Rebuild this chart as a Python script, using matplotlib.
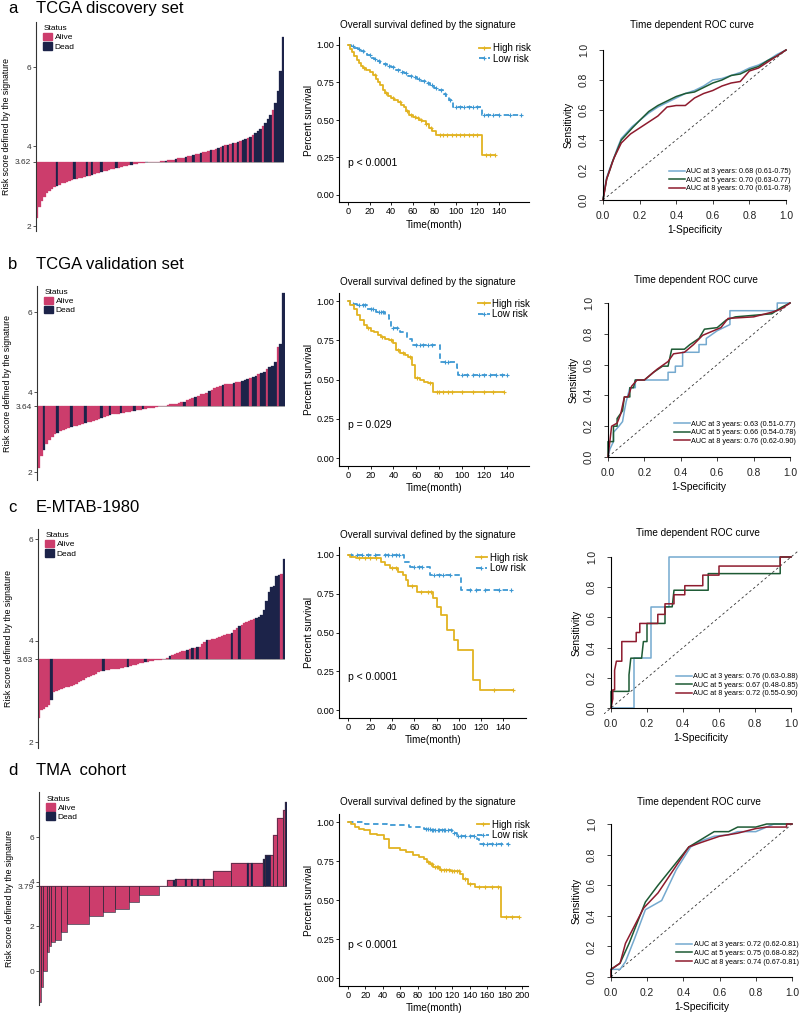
import numpy as np
import matplotlib
matplotlib.use('Agg')
import matplotlib.pyplot as plt
from matplotlib.patches import Patch
from matplotlib.lines import Line2D

plt.rcParams['font.family'] = ['Liberation Sans', 'DejaVu Sans']

# ---------------- data ----------------
# waterfall: sorted risk scores, indices of dead patients, cutoff
risk_a = [2.20, 2.48, 2.64, 2.74, 2.82, 2.88, 2.93, 2.97, 3.01, 3.04,
          3.07, 3.09, 3.11, 3.13, 3.15, 3.17, 3.19, 3.20, 3.22, 3.24,
          3.26, 3.27, 3.29, 3.31, 3.33, 3.34, 3.36, 3.38, 3.39, 3.41,
          3.43, 3.44, 3.46, 3.47, 3.49, 3.50, 3.52, 3.53, 3.54, 3.56,
          3.57, 3.58, 3.59, 3.595, 3.60, 3.605, 3.61, 3.612, 3.615, 3.618,
          3.625, 3.63, 3.64, 3.65, 3.66, 3.67, 3.68, 3.70, 3.71, 3.72,
          3.74, 3.75, 3.77, 3.78, 3.80, 3.81, 3.83, 3.85, 3.86, 3.88,
          3.90, 3.92, 3.94, 3.96, 3.98, 4.00, 4.03, 4.05, 4.07, 4.09,
          4.10, 4.12, 4.14, 4.16, 4.19, 4.22, 4.25, 4.29, 4.33, 4.38,
          4.44, 4.52, 4.60, 4.68, 4.78, 4.92, 5.10, 5.40, 5.90, 6.75]
dead_a = [8, 15, 20, 22, 26, 32, 38, 44, 52, 56, 60, 63, 66, 70, 73, 75, 77,
          79, 81, 83, 84, 86, 88, 89, 90, 92, 93, 94, 96, 97, 98, 99]
cut_a = 3.62

risk_b = [2.09, 2.40, 2.55, 2.70, 2.80, 2.88, 2.94, 2.98, 3.02, 3.05,
          3.08, 3.10, 3.12, 3.14, 3.16, 3.18, 3.20, 3.22, 3.24, 3.26,
          3.28, 3.30, 3.32, 3.36, 3.38, 3.40, 3.42, 3.44, 3.45, 3.46,
          3.47, 3.48, 3.50, 3.51, 3.52, 3.53, 3.55, 3.56, 3.57, 3.58,
          3.59, 3.60, 3.61, 3.63,
          3.645, 3.65, 3.66, 3.67, 3.69, 3.70, 3.71, 3.72, 3.74, 3.75,
          3.79, 3.83, 3.86, 3.88, 3.91, 3.94, 3.96, 3.98, 4.02, 4.06,
          4.10, 4.13, 4.16, 4.18, 4.19, 4.20, 4.21, 4.22, 4.24, 4.26,
          4.28, 4.30, 4.33, 4.35, 4.38, 4.41, 4.44, 4.47, 4.50, 4.58,
          4.62, 4.66, 4.75, 5.12, 5.20, 6.47]
dead_b = [2, 7, 12, 17, 23, 26, 30, 35, 38, 53, 57, 62, 67, 71, 74, 75, 76,
          78, 79, 81, 82, 84, 85, 86, 88, 89]
cut_b = 3.64

risk_c = [2.48, 2.63, 2.66, 2.69, 2.72, 2.83, 2.99, 3.00, 3.02, 3.04,
          3.06, 3.08, 3.09, 3.10, 3.12, 3.15, 3.18, 3.20, 3.23, 3.26,
          3.28, 3.30, 3.32, 3.34, 3.37, 3.39, 3.40, 3.41, 3.42, 3.43,
          3.43, 3.44, 3.44, 3.45, 3.46, 3.47, 3.48, 3.50, 3.51, 3.52,
          3.53, 3.55, 3.56, 3.57, 3.58, 3.59, 3.60, 3.61, 3.62, 3.625,
          3.635, 3.64, 3.66, 3.70, 3.72, 3.74, 3.76, 3.78, 3.79, 3.80,
          3.81, 3.83, 3.85, 3.86, 3.87, 3.88, 3.94, 3.97, 4.00, 4.01,
          4.02, 4.03, 4.05, 4.07, 4.09, 4.10, 4.12, 4.13, 4.15, 4.20,
          4.24, 4.28, 4.31, 4.34, 4.36, 4.38, 4.40, 4.42, 4.45, 4.47,
          4.50, 4.60, 4.78, 4.95, 5.05, 5.07, 5.27, 5.30, 5.32, 5.60]
dead_c = [5, 26, 36, 43, 53, 60, 62, 64, 68, 78, 81,
          88, 89, 90, 91, 92, 93, 94, 95, 96, 97, 99]
cut_c = 3.63

# TMA cohort has many tied scores: value runs and run lengths
runs_d = [-1.41, -0.70, 0.00, 0.83, 1.10, 1.28, 1.37, 1.73, 2.09, 2.45,
          2.62, 2.76, 3.07, 3.42, 3.79, 4.06, 4.10, 4.46, 4.82, 5.00,
          5.18, 6.07, 6.84, 7.20, 7.55]
counts_d = [1, 1, 2, 1, 1, 2, 3, 3, 11, 7, 6, 7, 5, 10, 4, 4, 19, 9, 16, 1,
            4, 2, 3, 1, 1]
dead_d = [67, 68, 73, 76, 79, 82, 104, 106, 112, 113, 114, 115, 123]
cut_d = 3.79

# Kaplan-Meier: event times, survival after event, last follow-up, censor times
km_a_high_t = [2, 4, 6, 8, 10, 12, 14, 17, 20, 23, 26, 28, 30, 32, 34, 37, 40,
               43, 46, 49, 52, 54, 57, 60, 63, 66, 69, 72, 75, 78, 82, 124]
km_a_high_s = [0.975, 0.95, 0.925, 0.90, 0.88, 0.86, 0.845, 0.835, 0.82, 0.80,
               0.775, 0.755, 0.73, 0.70, 0.68, 0.66, 0.645, 0.635, 0.62, 0.60,
               0.585, 0.56, 0.53, 0.52, 0.51, 0.50, 0.49, 0.47, 0.445, 0.425,
               0.40, 0.267]
km_a_high_end = 136
km_a_high_c = [15, 25, 35, 42, 48, 55, 58, 62, 65, 68, 72, 77, 85, 88, 92, 96,
               100, 104, 108, 112, 116, 120, 128, 132, 136]
km_a_low_t = [3, 6, 9, 12, 15, 18, 21, 24, 27, 30, 33, 36, 40, 44, 48, 52, 56,
              60, 64, 68, 72, 76, 80, 84, 88, 91, 94, 97, 124]
km_a_low_s = [0.99, 0.98, 0.97, 0.96, 0.945, 0.93, 0.915, 0.905, 0.89, 0.88,
              0.87, 0.86, 0.85, 0.835, 0.82, 0.81, 0.795, 0.785, 0.775, 0.76,
              0.745, 0.73, 0.715, 0.70, 0.675, 0.655, 0.63, 0.585, 0.533]
km_a_low_end = 160
km_a_low_c = [5, 10, 14, 20, 25, 29, 34, 38, 42, 46, 50, 54, 58, 62, 66, 70,
              74, 78, 82, 86, 90, 95, 100, 104, 108, 112, 116, 120, 126, 130,
              134, 140, 150, 160]

km_b_high_t = [2, 5, 8, 11, 14, 17, 20, 23, 26, 29, 33, 36, 40, 42, 46, 50, 53,
               56, 59, 63, 67, 70, 75]
km_b_high_s = [0.975, 0.95, 0.91, 0.88, 0.845, 0.825, 0.81, 0.80, 0.785, 0.77,
               0.76, 0.75, 0.73, 0.687, 0.666, 0.655, 0.645, 0.59, 0.507,
               0.495, 0.486, 0.475, 0.423]
km_b_high_end = 137
km_b_high_c = [18, 30, 38, 44, 48, 55, 61, 72, 78, 80, 84, 88, 92, 100, 110,
               120, 128, 137]
km_b_low_t = [2, 8, 17, 25, 33, 36, 38, 46, 52, 56, 81, 96, 97]
km_b_low_s = [0.983, 0.973, 0.951, 0.93, 0.91, 0.888, 0.825, 0.803, 0.761,
              0.719, 0.613, 0.571, 0.529]
km_b_low_end = 140
km_b_low_c = [4, 10, 13, 15, 20, 22, 27, 29, 31, 40, 43, 60, 63, 66, 70, 74,
              85, 88, 100, 105, 110, 115, 120, 125, 130, 136, 140]

km_c_high_t = [1.5, 7.5, 30, 33, 37.6, 45, 50, 52.7, 54, 62, 77, 80, 84, 89,
               96, 99, 113, 119]
km_c_high_s = [0.99, 0.978, 0.957, 0.935, 0.914, 0.892, 0.871, 0.839, 0.80,
               0.763, 0.72, 0.667, 0.613, 0.516, 0.452, 0.387, 0.194, 0.129]
km_c_high_end = 149
km_c_high_c = [10, 15, 20, 25, 40, 43, 58, 66, 72, 75, 132, 149]
km_c_low_t = [51, 56, 74, 102]
km_c_low_s = [0.957, 0.925, 0.871, 0.774]
km_c_low_end = 147
km_c_low_c = [3, 8, 13, 18, 24, 33, 36, 40, 43, 46, 60, 64, 67, 78, 82, 86,
              92, 110, 116, 124, 136, 147]

km_d_high_t = [3, 8, 13, 18, 25, 33, 41, 47, 60, 67, 75, 82, 87, 91, 94, 98,
               106, 118, 129, 132, 138, 146, 176]
km_d_high_s = [0.989, 0.968, 0.958, 0.947, 0.925, 0.915, 0.893, 0.833, 0.823,
               0.808, 0.786, 0.775, 0.765, 0.745, 0.733, 0.711, 0.69, 0.685,
               0.669, 0.637, 0.605, 0.583, 0.391]
km_d_high_end = 196
km_d_high_c = [92, 95, 97, 100, 102, 104, 107, 110, 113, 116, 119, 122, 125,
               128, 134, 140, 150, 158, 165, 172, 182, 188, 196]
km_d_low_t = [20, 45, 70, 87, 95, 102, 119, 125, 148, 151]
km_d_low_s = [0.99, 0.98, 0.97, 0.957, 0.951, 0.947, 0.93, 0.908, 0.893, 0.861]
km_d_low_end = 184
km_d_low_c = [90, 92, 94, 96, 98, 100, 103, 105, 108, 110, 112, 115, 118,
              122, 127, 130, 135, 140, 145, 155, 160, 165, 170, 176, 184]

pvals = ['p < 0.0001', 'p = 0.029', 'p < 0.0001', 'p < 0.0001']

# ROC curves (1-specificity, sensitivity)
roc_a3_x = [0, 0.01, 0.02, 0.04, 0.05, 0.08, 0.10, 0.13, 0.16, 0.20, 0.25, 0.30,
            0.35, 0.40, 0.45, 0.50, 0.55, 0.60, 0.65, 0.70, 0.75, 0.80, 0.85,
            0.90, 0.95, 1.0]
roc_a3_y = [0, 0.08, 0.15, 0.22, 0.25, 0.35, 0.41, 0.45, 0.49, 0.53, 0.58, 0.62,
            0.65, 0.68, 0.71, 0.73, 0.76, 0.80, 0.81, 0.83, 0.85, 0.88, 0.90,
            0.93, 0.97, 1.0]
roc_a5_x = [0, 0.01, 0.02, 0.04, 0.05, 0.08, 0.10, 0.13, 0.16, 0.20, 0.25, 0.30,
            0.35, 0.40, 0.45, 0.50, 0.55, 0.60, 0.65, 0.70, 0.75, 0.80, 0.85,
            0.90, 0.95, 1.0]
roc_a5_y = [0, 0.07, 0.14, 0.21, 0.25, 0.34, 0.40, 0.44, 0.48, 0.53, 0.59, 0.63,
            0.66, 0.69, 0.71, 0.72, 0.75, 0.78, 0.80, 0.83, 0.84, 0.87, 0.89,
            0.93, 0.96, 1.0]
roc_a8_x = [0, 0.01, 0.02, 0.04, 0.06, 0.08, 0.10, 0.15, 0.20, 0.25, 0.30, 0.35,
            0.40, 0.45, 0.50, 0.55, 0.60, 0.65, 0.70, 0.75, 0.80, 0.85, 0.90,
            0.95, 1.0]
roc_a8_y = [0, 0.07, 0.14, 0.21, 0.28, 0.33, 0.38, 0.44, 0.48, 0.52, 0.56, 0.62,
            0.63, 0.63, 0.68, 0.71, 0.73, 0.76, 0.78, 0.79, 0.86, 0.88, 0.92,
            0.96, 1.0]

roc_b3_x = [0, 0.01, 0.03, 0.03, 0.06, 0.08, 0.09, 0.10, 0.12, 0.15, 0.15, 0.33,
            0.33, 0.37, 0.37, 0.41, 0.41, 0.50, 0.50, 0.54, 0.54, 0.60, 0.67,
            0.67, 0.93, 0.93, 1.0]
roc_b3_y = [0, 0.05, 0.10, 0.16, 0.20, 0.23, 0.30, 0.36, 0.45, 0.45, 0.50, 0.50,
            0.55, 0.55, 0.59, 0.59, 0.68, 0.68, 0.73, 0.73, 0.77, 0.82, 0.86,
            0.95, 0.95, 1.0, 1.0]
roc_b5_x = [0, 0, 0.03, 0.03, 0.05, 0.05, 0.08, 0.09, 0.12, 0.12, 0.14, 0.15,
            0.20, 0.25, 0.30, 0.33, 0.35, 0.42, 0.45, 0.50, 0.53, 0.60, 0.65,
            0.70, 0.90, 0.95, 1.0]
roc_b5_y = [0, 0.10, 0.10, 0.20, 0.20, 0.25, 0.30, 0.39, 0.39, 0.45, 0.45, 0.50,
            0.50, 0.55, 0.59, 0.59, 0.70, 0.70, 0.73, 0.77, 0.83, 0.84, 0.89,
            0.91, 0.93, 0.97, 1.0]
roc_b8_x = [0, 0.01, 0.02, 0.05, 0.07, 0.09, 0.11, 0.13, 0.16, 0.20, 0.27, 0.33,
            0.36, 0.42, 0.47, 0.52, 0.58, 0.62, 0.66, 0.80, 0.90, 0.95, 1.0]
roc_b8_y = [0, 0.10, 0.20, 0.22, 0.28, 0.39, 0.39, 0.46, 0.50, 0.50, 0.57, 0.62,
            0.67, 0.68, 0.73, 0.79, 0.82, 0.84, 0.90, 0.91, 0.94, 0.96, 1.0]

roc_c3_x = [0, 0.125, 0.125, 0.22, 0.22, 0.32, 0.32, 1.0]
roc_c3_y = [0, 0, 0.333, 0.333, 0.667, 0.667, 1.0, 1.0]
roc_c5_x = [0, 0, 0.10, 0.10, 0.11, 0.17, 0.18, 0.20, 0.20, 0.30, 0.30, 0.34,
            0.35, 0.54, 0.54, 0.94, 0.94, 1.0]
roc_c5_y = [0, 0.11, 0.11, 0.22, 0.33, 0.33, 0.44, 0.44, 0.56, 0.56, 0.67, 0.67,
            0.78, 0.78, 0.89, 0.89, 1.0, 1.0]
roc_c8_x = [0, 0.01, 0.01, 0.02, 0.02, 0.03, 0.06, 0.06, 0.14, 0.14, 0.16, 0.16,
            0.26, 0.26, 0.30, 0.30, 0.35, 0.35, 0.41, 0.41, 0.51, 0.51, 0.60,
            0.60, 0.94, 0.94, 1.0]
roc_c8_y = [0, 0.06, 0.12, 0.12, 0.25, 0.31, 0.31, 0.44, 0.44, 0.50, 0.50, 0.56,
            0.56, 0.62, 0.62, 0.69, 0.69, 0.75, 0.75, 0.81, 0.81, 0.88, 0.88,
            0.94, 0.94, 1.0, 1.0]

roc_d3_x = [0, 0, 0.05, 0.08, 0.13, 0.19, 0.28, 0.36, 0.44, 0.50, 0.57, 0.65,
            0.70, 0.80, 0.84, 0.90, 1.0]
roc_d3_y = [0, 0.05, 0.05, 0.10, 0.25, 0.44, 0.50, 0.70, 0.85, 0.89, 0.92, 0.93,
            0.95, 0.95, 0.97, 1.0, 1.0]
roc_d5_x = [0, 0, 0.05, 0.10, 0.19, 0.26, 0.43, 0.50, 0.57, 0.65, 0.70, 0.80,
            0.86, 1.0]
roc_d5_y = [0, 0.05, 0.09, 0.22, 0.49, 0.60, 0.85, 0.90, 0.95, 0.95, 0.98, 0.98,
            1.0, 1.0]
roc_d8_x = [0, 0, 0.05, 0.08, 0.18, 0.26, 0.43, 0.50, 0.60, 0.70, 0.80, 0.86,
            0.97, 0.97, 1.0]
roc_d8_y = [0, 0.05, 0.09, 0.22, 0.45, 0.55, 0.85, 0.88, 0.92, 0.94, 0.97, 0.98,
            0.98, 1.0, 1.0]

auc_a = ['0.68 (0.61-0.75)', '0.70 (0.63-0.77)', '0.70 (0.61-0.78)']
auc_b = ['0.63 (0.51-0.77)', '0.66 (0.54-0.78)', '0.76 (0.62-0.90)']
auc_c = ['0.76 (0.63-0.88)', '0.67 (0.48-0.85)', '0.72 (0.55-0.90)']
auc_d = ['0.72 (0.62-0.81)', '0.75 (0.68-0.82)', '0.74 (0.67-0.81)']
years = [3, 5, 8]

titles = ['TCGA discovery set', 'TCGA validation set', 'E-MTAB-1980', 'TMA  cohort']
letters = ['a', 'b', 'c', 'd']

# ---------------- styles ----------------
ALIVE = '#CC3D6C'
DEAD = '#1C2349'
HIGH = '#E2B321'
LOW = '#3D98D3'
ROC_COLS = ['#74A9CF', '#1D5A34', '#8E1B2E']

W, H = 800, 1013
fig = plt.figure(figsize=(8, 10.13), dpi=100)


def place(xlim, ylim, xcal, ycal):
    # axes positioned so that data values fall on the measured pixels
    (xv1, xp1), (xv2, xp2) = xcal
    (yv1, yp1), (yv2, yp2) = ycal
    sx = (xp2 - xp1) / (xv2 - xv1)
    sy = (yp2 - yp1) / (yv2 - yv1)
    left = xp1 + (xlim[0] - xv1) * sx
    right = xp1 + (xlim[1] - xv1) * sx
    bottom = yp1 + (ylim[0] - yv1) * sy
    top = yp1 + (ylim[1] - yv1) * sy
    ax = fig.add_axes([left / W, 1 - bottom / H, (right - left) / W, (bottom - top) / H])
    ax.set_xlim(xlim)
    ax.set_ylim(ylim)
    return ax


def waterfall(vals, dead, cut, px, ycal, ylim, ticks, tlabels, runs=None):
    vals = np.asarray(vals, dtype=float)
    n = len(vals)
    ax = place((-0.5, n - 0.5), ylim, ((-0.5, px[0]), (n - 0.5, px[1])), ycal)
    cols = [DEAD if i in dead else ALIVE for i in range(n)]
    ax.bar(np.arange(n), vals - cut, bottom=cut, width=1.0, color=cols,
           edgecolor=cols, linewidth=0.2)
    if runs is not None:
        # outline the tied groups
        starts = np.r_[0, np.cumsum(runs[1])[:-1]]
        ax.bar(starts - 0.5 + np.asarray(runs[1]) / 2, np.asarray(runs[0]) - cut,
               bottom=cut, width=runs[1], fill=False, edgecolor='#3a2a40', linewidth=0.5)
    ax.axhline(cut, color='#a0a0a0', lw=0.6, zorder=0)
    for s in ['top', 'right', 'bottom']:
        ax.spines[s].set_visible(False)
    ax.spines['left'].set_color('#333333')
    ax.spines['left'].set_linewidth(0.8)
    ax.set_xticks([])
    ax.set_yticks(ticks)
    ax.set_yticklabels(tlabels)
    ax.tick_params(axis='y', labelsize=6, length=2, width=0.6, pad=1.5, colors='#333333')
    ax.set_ylabel('Risk score defined by the signature', fontsize=6.3, labelpad=2.5)
    leg = ax.legend(handles=[Patch(color=ALIVE), Patch(color=DEAD)],
                    labels=['Alive', 'Dead'], title='Status', loc='upper left',
                    bbox_to_anchor=(0.03, 0.985), frameon=False, fontsize=6,
                    title_fontsize=6, handlelength=1.0, handleheight=1.0,
                    handletextpad=0.35, labelspacing=0.08, borderaxespad=0,
                    borderpad=0)
    leg._legend_box.align = 'left'
    return ax


def km_curve(ax, ev_t, ev_s, end, cens, color, ls):
    t = np.r_[0, ev_t, end]
    s = np.r_[1.0, ev_s, ev_s[-1]]
    ax.step(t, s, where='post', color=color, lw=1.3, ls=ls)
    idx = np.searchsorted(t, cens, side='right') - 1
    idx = np.clip(idx, 0, len(s) - 1)
    ax.plot(cens, s[idx], '+', color=color, ms=3.5, mew=0.8)


def km_panel(curves, xcal, ycal, xlim, xticks, pval, title_y):
    ax = place(xlim, (-0.05, 1.05), xcal, ycal)
    hi, lo = curves
    km_curve(ax, *lo, LOW, (0, (3, 2)))
    km_curve(ax, *hi, HIGH, '-')
    for s in ['top', 'right']:
        ax.spines[s].set_visible(False)
    for s in ['left', 'bottom']:
        ax.spines[s].set_linewidth(0.8)
    ax.set_yticks([0, 0.25, 0.5, 0.75, 1.0])
    ax.set_yticklabels(['0.00', '0.25', '0.50', '0.75', '1.00'])
    ax.set_xticks(xticks)
    ax.tick_params(labelsize=6.6, length=2, width=0.6, pad=1.5)
    ax.set_ylabel('Percent survival', fontsize=7.2, labelpad=2)
    ax.set_xlabel('Time(month)', fontsize=7.2, labelpad=2.5)
    ax.text(0, 0.21, pval, fontsize=7.5, va='center', ha='left')
    handles = [Line2D([], [], color=HIGH, lw=1.3, marker='+', ms=3, mew=0.8),
               Line2D([], [], color=LOW, lw=1.3, ls=(0, (3, 2)), marker='+',
                      ms=3, mew=0.8)]
    ax.legend(handles, ['High risk', 'Low risk'], loc='upper right',
              bbox_to_anchor=(1.03, 0.99), frameon=False, fontsize=7,
              handlelength=1.2, handletextpad=0.3, labelspacing=0.05,
              borderaxespad=0)
    fig.text(428 / W, 1 - title_y / H, 'Overall survival defined by the signature',
             ha='center', va='center', fontsize=7.1)
    return ax


def roc_panel(curves, aucs, xcal, ycal, title_xy, legend_y, long_diag=False):
    ax = place((-0.04, 1.04), (-0.04, 1.04), xcal, ycal)
    if long_diag:
        ax.plot([-0.04, 1.04], [-0.04, 1.04], color='#333333', lw=0.6, ls=(0, (3, 3)))
    else:
        ax.plot([0, 1], [0, 1], color='#333333', lw=0.6, ls=(0, (3, 3)))
    handles = []
    for (xs, ys), c in zip(curves, ROC_COLS):
        ln, = ax.plot(xs, ys, color=c, lw=1.1)
        handles.append(ln)
    for s in ['top', 'right']:
        ax.spines[s].set_visible(False)
    ax.spines['left'].set_position(('data', 0))
    ax.spines['bottom'].set_position(('data', 0))
    ax.spines['left'].set_bounds(0, 1)
    ax.spines['bottom'].set_bounds(0, 1)
    ticks = [0, 0.2, 0.4, 0.6, 0.8, 1.0]
    tl = ['0.0', '0.2', '0.4', '0.6', '0.8', '1.0']
    ax.set_xticks(ticks)
    ax.set_xticklabels(tl)
    ax.set_yticks(ticks)
    ax.set_yticklabels(tl, rotation=90, va='center')
    ax.tick_params(labelsize=7.4, length=3, width=0.6, colors='#222222')
    ax.tick_params(axis='x', pad=5)
    ax.tick_params(axis='y', pad=7)
    ax.set_ylabel('Sensitivity', fontsize=7.4, labelpad=4)
    ax.set_xlabel('1-Specificity', fontsize=7.4, labelpad=3)
    labels = ['AUC at %d years: %s' % (y, a) for y, a in zip(years, aucs)]
    ax.legend(handles, labels, loc='lower left', bbox_to_anchor=(0.36, legend_y),
              bbox_transform=ax.transData, frameon=False, fontsize=5.25,
              handlelength=2.2, handletextpad=0.2, labelspacing=0.2,
              borderaxespad=0, borderpad=0)
    fig.text(title_xy[0] / W, 1 - title_xy[1] / H, 'Time dependent ROC curve',
             ha='center', va='center', fontsize=7.2)
    return ax


# ---------------- panels ----------------
title_base = [13, 269, 512, 775]
for L, T, yb in zip(letters, titles, title_base):
    fig.text(8 / W, 1 - yb / H, L, fontsize=12, va='baseline', ha='left')
    fig.text(36 / W, 1 - yb / H, T, fontsize=12, va='baseline', ha='left')

# waterfalls
waterfall(risk_a, dead_a, cut_a, (36, 284), ((2, 226), (6, 67)), (1.88, 7.13),
          [2, cut_a, 4, 6], ['2', '3.62', '4', '6'])
waterfall(risk_b, dead_b, cut_b, (37, 285), ((2, 472), (6, 312)), (1.8, 6.65),
          [2, cut_b, 4, 6], ['2', '3.64', '4', '6'])
waterfall(risk_c, dead_c, cut_c, (38, 285), ((2, 742), (6, 539)), (1.88, 6.2),
          [2, cut_c, 4, 6], ['2', '3.63', '4', '6'])
risk_d = np.repeat(runs_d, counts_d)
waterfall(risk_d, dead_d, cut_d, (39, 287), ((0, 971), (6, 837)), (-1.5, 8.0),
          [0, 2, cut_d, 4, 6], ['0', '2', '3.79', '4', '6'],
          runs=(runs_d, counts_d))

# Kaplan-Meier
km_panel(((km_a_high_t, km_a_high_s, km_a_high_end, km_a_high_c),
          (km_a_low_t, km_a_low_s, km_a_low_end, km_a_low_c)),
         ((0, 348), (140, 499)), ((0, 195), (1, 45)), (-8, 168),
         range(0, 141, 20), pvals[0], 25)
km_panel(((km_b_high_t, km_b_high_s, km_b_high_end, km_b_high_c),
          (km_b_low_t, km_b_low_s, km_b_low_end, km_b_low_c)),
         ((0, 348), (140, 507)), ((0, 458), (1, 301)), (-7.5, 159),
         range(0, 141, 20), pvals[1], 282)
km_panel(((km_c_high_t, km_c_high_s, km_c_high_end, km_c_high_c),
          (km_c_low_t, km_c_low_s, km_c_low_end, km_c_low_c)),
         ((0, 348), (140, 503)), ((0, 710), (1, 555)), (-8, 161),
         range(0, 141, 20), pvals[2], 535)
km_panel(((km_d_high_t, km_d_high_s, km_d_high_end, km_d_high_c),
          (km_d_low_t, km_d_low_s, km_d_low_end, km_d_low_c)),
         ((0, 348), (200, 522)), ((0, 978), (1, 822)), (-10, 207),
         range(0, 201, 20), pvals[3], 802)

# ROC
roc_panel([(roc_a3_x, roc_a3_y), (roc_a5_x, roc_a5_y), (roc_a8_x, roc_a8_y)],
          auc_a, ((0, 603), (1, 786)), ((0, 200), (1, 50)), (692, 25), 0.05)
roc_panel([(roc_b3_x, roc_b3_y), (roc_b5_x, roc_b5_y), (roc_b8_x, roc_b8_y)],
          auc_b, ((0, 608), (1, 790)), ((0, 457), (1, 303)), (696, 280), 0.08)
roc_panel([(roc_c3_x, roc_c3_y), (roc_c5_x, roc_c5_y), (roc_c8_x, roc_c8_y)],
          auc_c, ((0, 611), (1, 791)), ((0, 708), (1, 557)), (698, 533), 0.07,
          long_diag=True)
roc_panel([(roc_d3_x, roc_d3_y), (roc_d5_x, roc_d5_y), (roc_d8_x, roc_d8_y)],
          auc_d, ((0, 611), (1, 792)), ((0, 977), (1, 824)), (699, 802), 0.075)

fig.savefig('out.png', dpi=100)
